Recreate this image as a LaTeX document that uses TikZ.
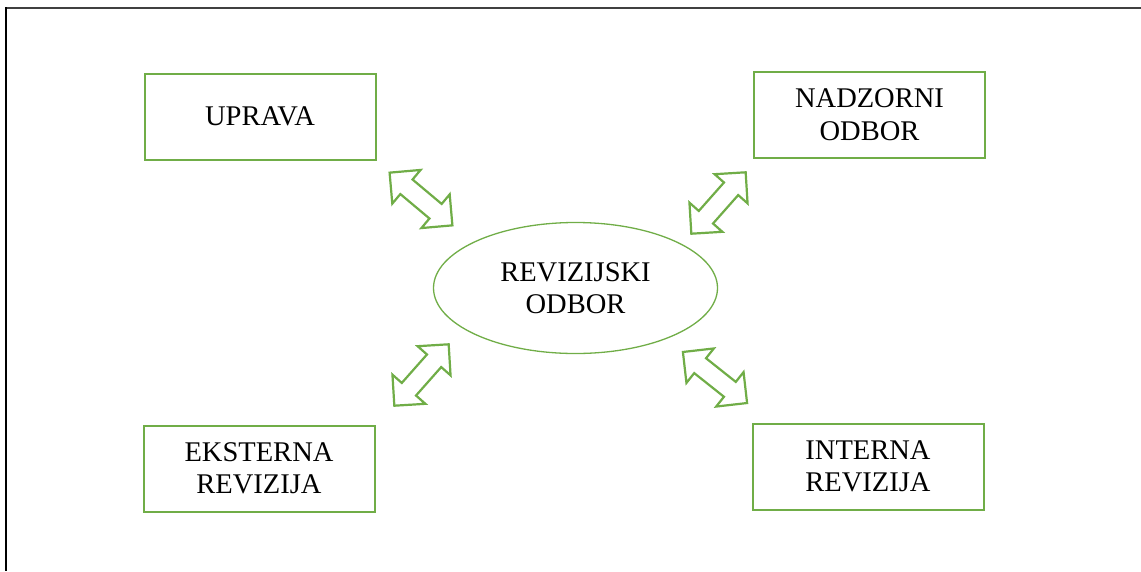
\documentclass[tikz,border=0pt]{standalone}
\usepackage{fontspec}
\setmainfont{Liberation Serif}
\usetikzlibrary{shapes.geometric}
\definecolor{ogreen}{HTML}{70AD47}
\begin{document}
\begin{tikzpicture}[x=1pt,y=-1pt,
  lbl/.style={font=\fontsize{28.5}{32.5}\selectfont,align=center,text=black},
  box/.style={lbl,draw=ogreen,line width=2pt,minimum width=231pt,minimum height=86pt,inner sep=0pt},
  oval/.style={lbl,ellipse,draw=ogreen,line width=1.3pt,minimum width=284pt,minimum height=131pt,inner sep=0pt},
  dblarrow/.pic={\draw[draw=ogreen,line width=2.2pt,fill=white,line join=miter]
    (-41,0)--(-19,22)--(-19,9.5)--(19,9.5)--(19,22)--(41,0)--(19,-22)--(19,-9.5)--(-19,-9.5)--(-19,-22)--cycle;}
]
\useasboundingbox (0,0) rectangle (1141,571);
\draw[black!75,line width=2pt] (6,8.3) -- (1141,8.3);
\draw[black,line width=2pt] (6,7.3) -- (6,571);

\node[box]  (upr) at (260,116.5) {UPRAVA};
\node[box]  (nad) at (869.5,114.5) {NADZORNI\\ODBOR};
\node[box]  (eks) at (259,468.5) {EKSTERNA\\REVIZIJA};
\node[box]  (int) at (868,466.5) {INTERNA\\REVIZIJA};
\node[oval] (rev) at (575.5,288) {REVIZIJSKI\\ODBOR};

\pic[rotate=-40] at (421,199) {dblarrow};
\pic[rotate=48.5] at (718.5,203) {dblarrow};
\pic[rotate=48.5] at (421.5,375) {dblarrow};
\pic[rotate=-38.5] at (715,377.5) {dblarrow};
\end{tikzpicture}
\end{document}
